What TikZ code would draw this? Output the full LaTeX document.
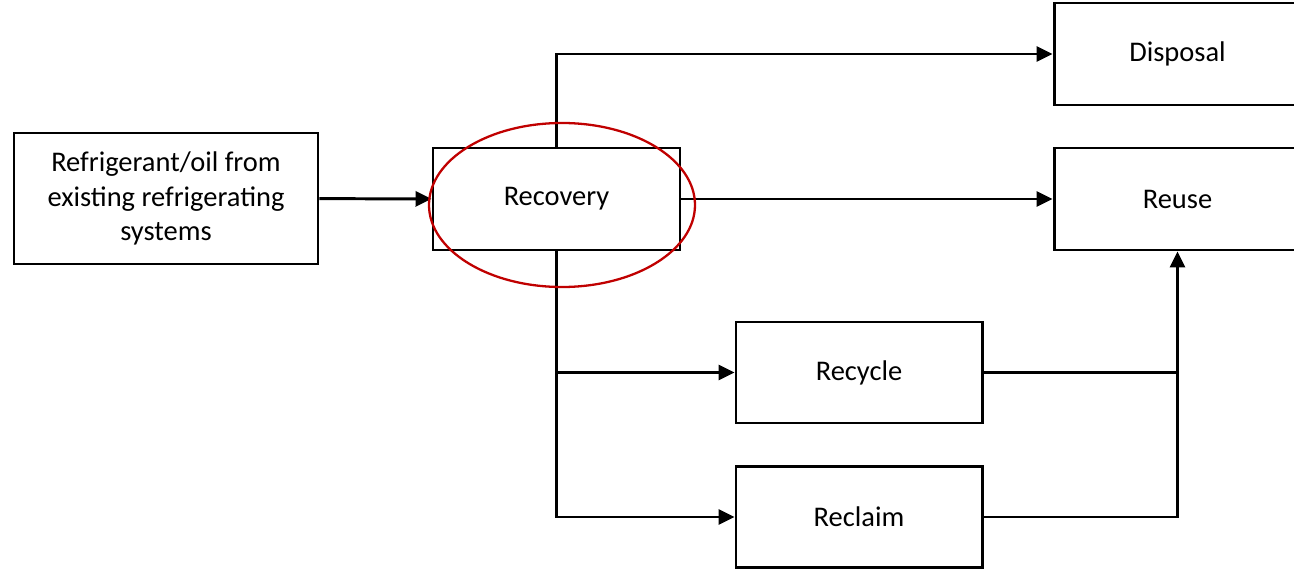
\documentclass[tikz,border=0pt]{standalone}
\usepackage{fontspec}
\setmainfont{Carlito}
\usepackage{xcolor}
\usetikzlibrary{arrows.meta}
\usetikzlibrary{shapes.geometric}
\definecolor{ringred}{RGB}{192,0,0}

\begin{document}
\begin{tikzpicture}[
    stage/.style={draw,line width=1.7pt,fill=white,align=center,
      font=\fontsize{16.2}{19.5}\selectfont,inner sep=0pt},
    flow/.style={line width=1.7pt,-{Triangle[length=0.32cm,width=0.3cm]}},
    link/.style={line width=1.7pt}]
        \useasboundingbox (0,0) rectangle (25.88,11.42);
        % boxes
        \node[stage,minimum width=6.08cm,minimum height=2.62cm] (source) at (3.32,7.45)
          {Refrigerant/oil from\\existing refrigerating\\systems};
        \node[stage,minimum width=4.94cm,minimum height=2.04cm] (recovery) at (11.13,7.44) {Recovery};
        \node[stage,minimum width=4.94cm,minimum height=2.04cm] (disposal) at (23.55,10.34) {Disposal};
        \node[stage,minimum width=4.94cm,minimum height=2.04cm] (reuse) at (23.55,7.44) {Reuse};
        \node[stage,minimum width=4.92cm,minimum height=2.02cm] (recycle) at (17.18,3.97) {Recycle};
        \node[stage,minimum width=4.92cm,minimum height=2.02cm] (reclaim) at (17.18,1.08) {Reclaim};
        %%
        \draw[flow] (source) -- (recovery);
        \draw[flow] (recovery.north) |- (disposal.west);
        \draw[flow] (recovery) -- (reuse);
        \draw[flow] (recovery.south) |- (recycle.west);
        \draw[flow] (recovery.south) |- (reclaim.west);
        \draw[link] (recycle.east) -- (recycle.east -| reuse.south);
        \draw[flow] (reclaim.east) -| (reuse.south);
        %%
        \node[draw=ringred,line width=1.3pt,ellipse,minimum width=5.32cm,minimum height=3.28cm,
          inner sep=0pt] (ring) at (11.24,7.32) {};
    \end{tikzpicture}
\end{document}
